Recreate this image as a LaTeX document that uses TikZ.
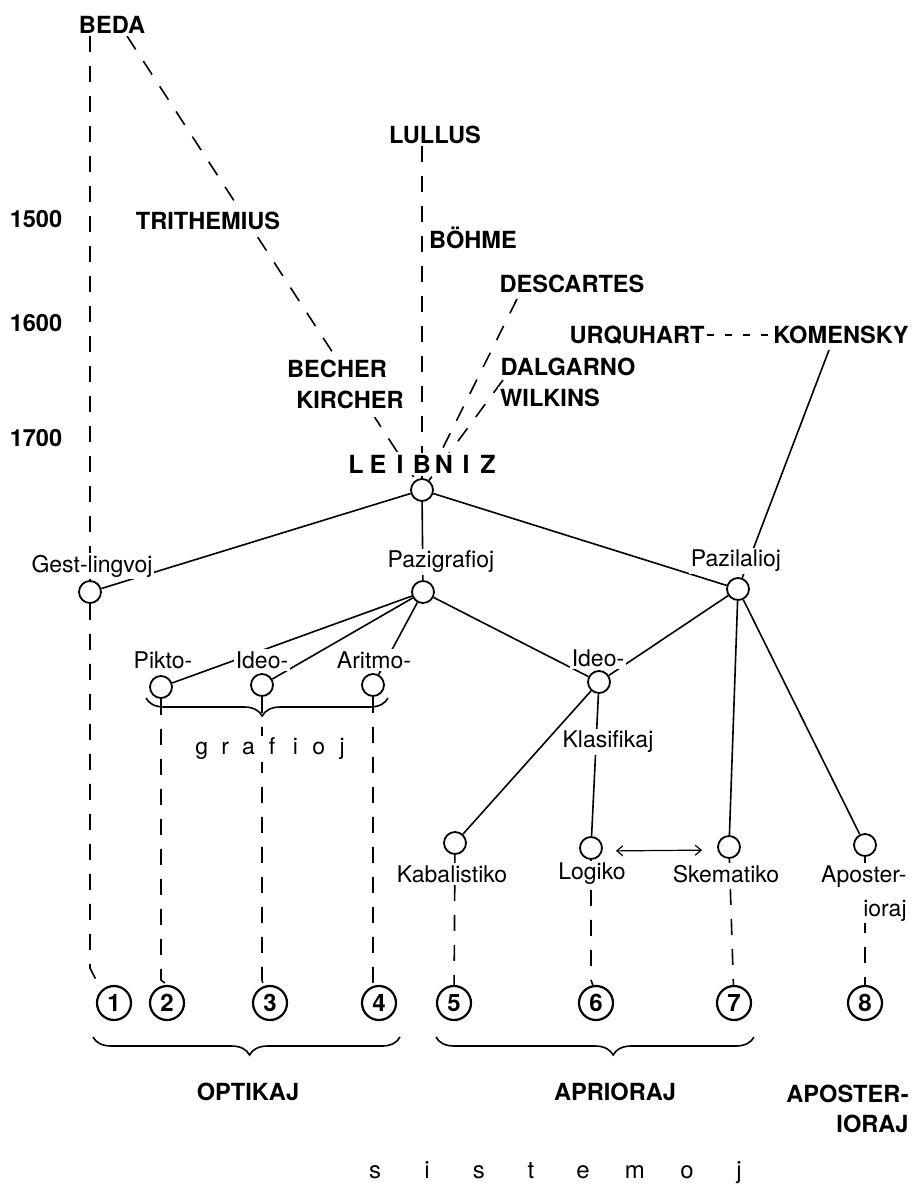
\documentclass[tikz,border=0pt]{standalone}
\usepackage{fontspec}
\setmainfont{TeX Gyre Heros}
\usetikzlibrary{decorations.pathreplacing,arrows.meta,calc}
\pgfdeclarelayer{bg}
\pgfdeclarelayer{edges}
\pgfsetlayers{bg,edges,main}
\newcommand\sepL[2]{\makebox[#1]{#2}}
\tikzset{
  names/.style={font=\fontsize{11.8}{14}\selectfont\bfseries, fill=white, inner sep=1pt},
  lbl/.style={font=\fontsize{11.5}{14}\selectfont, fill=white, inner sep=1pt},
  dot/.style={circle, draw, fill=white, minimum size=11pt, inner sep=0pt, line width=0.9pt},
  num/.style={circle, draw, fill=white, minimum size=17pt, inner sep=0pt, line width=1.1pt, font=\fontsize{12}{14}\selectfont\bfseries},
  edge/.style={line width=0.8pt},
  dsh/.style={line width=0.8pt, dash pattern=on 8pt off 7pt},
  brc/.style={decorate, line width=0.8pt},
}
\begin{document}
\begin{tikzpicture}[x=0.5pt,y=-0.5pt]
\useasboundingbox (0,0) rectangle (915,1188);
\begin{pgfonlayer}{bg}
\fill[white] (0,0) rectangle (915,1188);
\end{pgfonlayer}

% years
\node[names] (y1500) at (36,219) {1500};
\node[names] (y1600) at (36,323) {1600};
\node[names] (y1700) at (36,438) {1700};

% names
\node[names] (beda) at (112,25) {BEDA};
\node[names] (trith) at (208,221) {TRITHEMIUS};
\node[names] (lullus) at (435,135) {LULLUS};
\node[names] (bohme) at (473,238) {BÖHME};
\node[names] (desc) at (572,284) {DESCARTES};
\node[names, inner ysep=4pt] (becher) at (337,369) {BECHER};
\node[names, inner ysep=4pt] (kircher) at (350,400) {KIRCHER};
\node[names] (dalg) at (568,367) {DALGARNO};
\node[names] (wilk) at (550,398) {WILKINS};
\node[names] (urq) at (637,335) {URQUHART};
\node[names] (kom) at (841,335) {KOMENSKY};
\node[names, font=\fontsize{12.5}{14}\selectfont\bfseries] (leibt) at (422,464)
  {\sepL{11pt}{L}\sepL{11pt}{E}\sepL{11pt}{I}\sepL{11pt}{B}\sepL{11pt}{N}\sepL{11pt}{I}\sepL{11pt}{Z}};
\node[dot] (leib) at (422,490) {};

% first level
\node[lbl] (gestl) at (92,566) {Gest-lingvoj};
\node[dot] (gestc) at (90,592) {};
\node[lbl] (pazgl) at (441,562) {Pazigrafioj};
\node[dot] (pazgc) at (423,592) {};
\node[lbl] (pazll) at (736,561) {Pazilalioj};
\node[dot] (pazlc) at (738,589) {};

% grafioj
\node[lbl] (pikl) at (163,660) {Pikto-};
\node[dot] (pikc) at (161,687) {};
\node[lbl] (ideol) at (262,660) {Ideo-};
\node[dot] (ideoc) at (262,685) {};
\node[lbl] (aritl) at (374,660) {Aritmo-};
\node[dot] (aritc) at (373,685) {};
\node[lbl] (graf) at (272,749)
  {\sepL{11.7pt}{g}\sepL{11.7pt}{r}\sepL{11.7pt}{a}\sepL{11.7pt}{f}\sepL{11.7pt}{i}\sepL{11.7pt}{o}\sepL{11.7pt}{j}};

% ideo- right
\node[lbl] (ideo2l) at (598,658) {Ideo-};
\node[dot] (ideo2c) at (599,682) {};
\node[lbl] (klas) at (608,742) {Klasifikaj};

% lower level
\node[dot] (kabc) at (455,843) {};
\node[lbl] (kabl) at (452,874) {Kabalistiko};
\node[dot] (logc) at (591,848) {};
\node[lbl] (logl) at (592,874) {Logiko};
\node[dot] (skemc) at (729,847) {};
\node[lbl] (skeml) at (726,874) {Skematiko};
\node[dot] (apostc) at (865,845) {};
\node[lbl, align=right, anchor=north east, font=\fontsize{11.5}{17}\selectfont] (apostl) at (909,863) {Aposter-\\ioraj};

% numbered circles
\node[num] (n1) at (114,1003) {1};
\node[num] (n2) at (167,1003) {2};
\node[num] (n3) at (270,1003) {3};
\node[num] (n4) at (379,1003) {4};
\node[num] (n5) at (454,1003) {5};
\node[num] (n6) at (596,1003) {6};
\node[num] (n7) at (734,1003) {7};
\node[num] (n8) at (865,1003) {8};

% bottom labels
\node[names] (optik) at (248,1092) {OPTIKAJ};
\node[names] (aprio) at (615,1092) {APRIORAJ};
\node[names, align=right, anchor=north east, font=\fontsize{11.8}{15}\selectfont\bfseries] (apost2) at (911,1083) {APOSTER-\\IORAJ};
\node[lbl, font=\fontsize{12}{14}\selectfont] (sist) at (557,1173)
  {\sepL{26pt}{s}\sepL{26pt}{i}\sepL{26pt}{s}\sepL{26pt}{t}\sepL{26pt}{e}\sepL{26pt}{m}\sepL{26pt}{o}\sepL{26pt}{j}};

% helper coordinates
\coordinate (bedaS) at (127,36);
\coordinate (dstart) at (517,299);
\coordinate (gstart) at (503,380);
\coordinate (kstart) at (829,350);
\coordinate (b1) at (90,968);
\coordinate (b2) at (0,980);

% braces
\draw[brc, decoration={brace, mirror, amplitude=9pt, aspect=0.48}] (146,698) -- (388,698);
\draw[brc, decoration={brace, mirror, amplitude=9pt, aspect=0.51}] (93,1037) -- (400,1037);
\draw[brc, decoration={brace, mirror, amplitude=9pt, aspect=0.557}] (436,1037) -- (754,1037);

% arrow
\draw[line width=0.6pt, {Straight Barb[length=3pt,width=5pt]}-{Straight Barb[length=3pt,width=5pt]}, shorten <=6.5pt, shorten >=7.5pt]
  ($(logc.east)+(0,3)$) -- ($(skemc.west)+(0,3)$);

\begin{pgfonlayer}{edges}
% dashed historical lines
\draw[dsh] (gestc |- beda.south) -- (gestc);
\draw[dsh] (bedaS) -- (leib);
\draw[dsh] (leib |- lullus.south) -- (leib);
\draw[dsh] (dstart) -- (leib);
\draw[dsh] (gstart) -- (leib);
\draw[line width=0.8pt, dash pattern=on 3.5pt off 5.5pt] (urq.east) -- (kom.west);
\draw[edge] (kstart) -- (pazlc);
% tree
\draw[edge] (leib) -- (gestc);
\draw[edge] (leib) -- (pazgc);
\draw[edge] (leib) -- (pazlc);
\draw[edge] (pazgc) -- (pikc);
\draw[edge] (pazgc) -- (ideoc);
\draw[edge] (pazgc) -- (aritc);
\draw[edge] (pazgc) -- (ideo2c);
\draw[edge] (pazlc) -- (ideo2c);
\draw[edge] (pazlc) -- (skemc);
\draw[edge] (pazlc) -- (apostc);
\draw[edge] (ideo2c) -- (kabc);
\draw[edge] (ideo2c) -- (logc);
% dashed down to systems
\draw[dsh] (gestc) -- (b1) -- (n1.north west);
\draw[dsh] (pikc) -- (pikc |- b2) -- (n2.north);
\draw[dsh] (ideoc) -- (ideoc |- b2) -- (n3.110);
\draw[dsh] (aritc) -- (aritc |- b2) -- (n4.110);
\draw[dsh] (kabc) -- (n5);
\draw[dsh] (logc) -- (logc |- b2) -- (n6.100);
\draw[dsh] (skemc) -- (n7);
\draw[dsh] (apostc) -- (n8);
\end{pgfonlayer}
\end{tikzpicture}
\end{document}
